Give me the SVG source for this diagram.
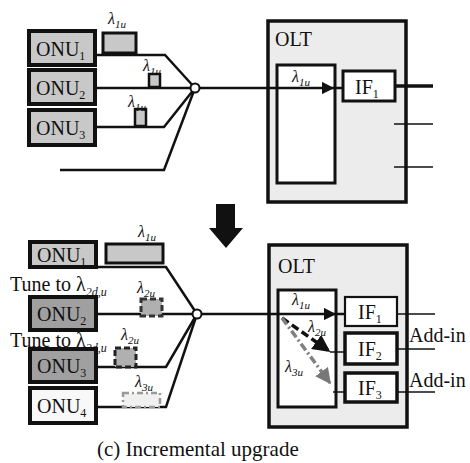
<svg xmlns="http://www.w3.org/2000/svg" width="470" height="463" viewBox="0 0 470 463">
<style>
text{font-family:"Liberation Serif","Times New Roman",serif;fill:#111}
.big{font-size:20px}
.sub{font-size:12px}
.lam{font-size:16px;font-style:italic}
.lsub{font-size:11px;font-style:italic}
.onu{stroke:#111;stroke-width:4}
.ln{fill:none;stroke:#111;stroke-width:2.5}
.thin{fill:none;stroke:#111;stroke-width:1.5}
.olt{fill:#ececec;stroke:#111;stroke-width:3.5}
.inner{fill:#fff;stroke:#111;stroke-width:3}
.ifb{fill:#fff;stroke:#111;stroke-width:3}
</style>
<defs>
<marker id="ah" viewBox="0 0 10 10" refX="9" refY="5" markerWidth="5" markerHeight="5" orient="auto" markerUnits="strokeWidth"><path d="M0,0 L10,5 L0,10 z" fill="#111"/></marker>
<marker id="ahg" viewBox="0 0 10 10" refX="9" refY="5" markerWidth="4.5" markerHeight="4.5" orient="auto" markerUnits="strokeWidth"><path d="M0,0 L10,5 L0,10 z" fill="#777"/></marker>
</defs>

<!-- ===== TOP ===== -->
<g id="olt-top">
<rect class="olt" x="268" y="21" width="138" height="181"/>
<text class="big" x="275" y="46">OLT</text>
<rect class="inner" x="277" y="65" width="58" height="118"/>
<text class="lam" x="292" y="82">λ<tspan class="lsub" dy="4">1u</tspan></text>
</g>
<g id="if1-top">
<rect class="ifb" x="343" y="71" width="52" height="30"/>
<text class="big" x="355" y="94">IF<tspan class="sub" dy="4">1</tspan></text>
</g>

<g id="connectors-top">
<polyline class="ln" points="96,55 165,55 195,88"/>
<line class="ln" x1="96" y1="88" x2="195" y2="88"/>
<polyline class="ln" points="96,127 164,127 195,88"/>
<polyline class="ln" points="60,170 164,170 195,88"/>
<line class="ln" x1="195" y1="88" x2="333" y2="88" marker-end="url(#ah)"/>
<line class="ln" x1="333" y1="88" x2="343" y2="88"/>
<line x1="395" y1="86" x2="433" y2="86" stroke="#111" stroke-width="3.5"/>
<line class="thin" x1="394" y1="124" x2="433" y2="124"/>
<line class="thin" x1="394" y1="167" x2="433" y2="167"/>
<circle cx="195" cy="88" r="4.5" fill="#fff" stroke="#111" stroke-width="2"/>
</g>

<g id="onu1-top">
<rect class="onu" x="29" y="31" width="66" height="34" fill="#c8c8c8"/>
<text class="big" x="36" y="56">ONU<tspan class="sub" dy="4">1</tspan></text>
</g>
<g id="onu2-top">
<rect class="onu" x="29" y="70" width="66" height="34" fill="#c8c8c8"/>
<text class="big" x="36" y="95">ONU<tspan class="sub" dy="4">2</tspan></text>
</g>
<g id="onu3-top">
<rect class="onu" x="29" y="110" width="66" height="35" fill="#c8c8c8"/>
<text class="big" x="36" y="135">ONU<tspan class="sub" dy="4">3</tspan></text>
</g>

<g id="burst-top">
<rect x="103" y="33" width="33" height="20" fill="#c8c8c8" stroke="#111" stroke-width="3"/>
<text class="lam" x="108" y="24">λ<tspan class="lsub" dy="4">1u</tspan></text>
<rect x="149" y="74" width="11" height="13" fill="#c8c8c8" stroke="#111" stroke-width="2.5"/>
<text class="lam" x="143" y="71">λ<tspan class="lsub" dy="4">1u</tspan></text>
<rect x="135" y="109" width="11" height="17" fill="#c8c8c8" stroke="#111" stroke-width="2.5"/>
<text class="lam" x="128" y="107">λ<tspan class="lsub" dy="4">1u</tspan></text>
</g>

<!-- big down arrow -->
<g id="down-arrow">
<path d="M216,204 L235,204 L235,228 L243,228 L226,248 L209,228 L216,228 z" fill="#111"/>
</g>

<!-- ===== BOTTOM ===== -->
<g id="olt-bottom">
<rect class="olt" x="269" y="245" width="138" height="182"/>
<text class="big" x="278" y="273">OLT</text>
<rect class="inner" x="278" y="290" width="58" height="117"/>
<text class="lam" x="292" y="305">λ<tspan class="lsub" dy="4">1u</tspan></text>
<text class="lam" x="308" y="332">λ<tspan class="lsub" dy="4">2u</tspan></text>
<text class="lam" x="285" y="372">λ<tspan class="lsub" dy="4">3u</tspan></text>
</g>
<g id="if1-bottom">
<rect x="345" y="297" width="52" height="29" fill="#fff" stroke="#111" stroke-width="2.2"/>
<text class="big" x="358" y="319">IF<tspan class="sub" dy="4">1</tspan></text>
</g>
<g id="if2-bottom">
<rect x="345" y="333" width="52" height="31" fill="#fff" stroke="#111" stroke-width="3.5"/>
<text class="big" x="358" y="356">IF<tspan class="sub" dy="4">2</tspan></text>
</g>
<g id="if3-bottom">
<rect x="345" y="373" width="52" height="29" fill="#fff" stroke="#111" stroke-width="3.5"/>
<text class="big" x="358" y="395">IF<tspan class="sub" dy="4">3</tspan></text>
</g>
<text class="big" x="409" y="342">Add-in</text>
<text class="big" x="409" y="387">Add-in</text>

<!-- tune labels (under ONU boxes) -->
<text class="big" x="10" y="291">Tune to λ<tspan class="sub" font-style="italic" dy="5">2d,u</tspan></text>
<text class="big" x="10" y="347">Tune to λ<tspan class="sub" font-style="italic" dy="5">2d,u</tspan></text>

<g id="connectors-bottom">
<polyline class="ln" points="97,267 166,267 197,314"/>
<line class="ln" x1="97" y1="314" x2="197" y2="314"/>
<polyline class="ln" points="97,367 166,367 197,314"/>
<polyline class="ln" points="97,407 166,407 197,314"/>
<line class="ln" x1="197" y1="314" x2="335" y2="314" marker-end="url(#ah)"/>
<line class="ln" x1="335" y1="314" x2="345" y2="314"/>
<line x1="282" y1="318" x2="329" y2="351" stroke="#111" stroke-width="3.5" stroke-dasharray="8,4" marker-end="url(#ah)"/>
<line class="thin" x1="330" y1="352" x2="345" y2="352"/>
<line x1="282" y1="318" x2="330" y2="383" stroke="#808080" stroke-width="3.5" stroke-dasharray="8,3,2,3" marker-end="url(#ahg)"/>
<line class="thin" x1="333" y1="392" x2="345" y2="392"/>
<line class="thin" x1="397" y1="314" x2="435" y2="314"/>
<line class="thin" x1="397" y1="349" x2="435" y2="349"/>
<line class="thin" x1="397" y1="392" x2="435" y2="392"/>
<circle cx="197" cy="314" r="4.5" fill="#fff" stroke="#111" stroke-width="2"/>
</g>

<g id="onu1-bottom">
<rect class="onu" x="30" y="242" width="66" height="25" fill="#c8c8c8"/>
<text class="big" x="37" y="262">ONU<tspan class="sub" dy="4">1</tspan></text>
</g>
<g id="onu2-bottom">
<rect class="onu" x="30" y="297" width="66" height="33" fill="#a0a0a0"/>
<text class="big" x="37" y="321">ONU<tspan class="sub" dy="4">2</tspan></text>
</g>
<g id="onu3-bottom">
<rect class="onu" x="30" y="349" width="66" height="33" fill="#a0a0a0"/>
<text class="big" x="37" y="373">ONU<tspan class="sub" dy="4">3</tspan></text>
</g>
<g id="onu4-bottom">
<rect class="onu" x="30" y="388" width="66" height="35" fill="#f8f8f8"/>
<text class="big" x="37" y="413">ONU<tspan class="sub" dy="4">4</tspan></text>
</g>

<g id="burst-bottom">
<rect x="106" y="244" width="57" height="19" fill="#c8c8c8" stroke="#111" stroke-width="3"/>
<text class="lam" x="138" y="237">λ<tspan class="lsub" dy="4">1u</tspan></text>
<rect x="141" y="299" width="21" height="17" fill="#b0b0b0" stroke="#333" stroke-width="3" stroke-dasharray="6,3"/>
<text class="lam" x="137" y="293">λ<tspan class="lsub" dy="4">2u</tspan></text>
<rect x="115" y="348" width="21" height="19" fill="#b0b0b0" stroke="#222" stroke-width="3" stroke-dasharray="6,3"/>
<text class="lam" x="121" y="340">λ<tspan class="lsub" dy="4">2u</tspan></text>
<rect x="123" y="393" width="37" height="14" fill="#f0f0f0" stroke="#999" stroke-width="2.5" stroke-dasharray="6,3,2,3"/>
<text class="lam" x="135" y="387">λ<tspan class="lsub" dy="4">3u</tspan></text>
</g>

<text x="97" y="456" font-size="21">(c) Incremental upgrade</text>
</svg>
